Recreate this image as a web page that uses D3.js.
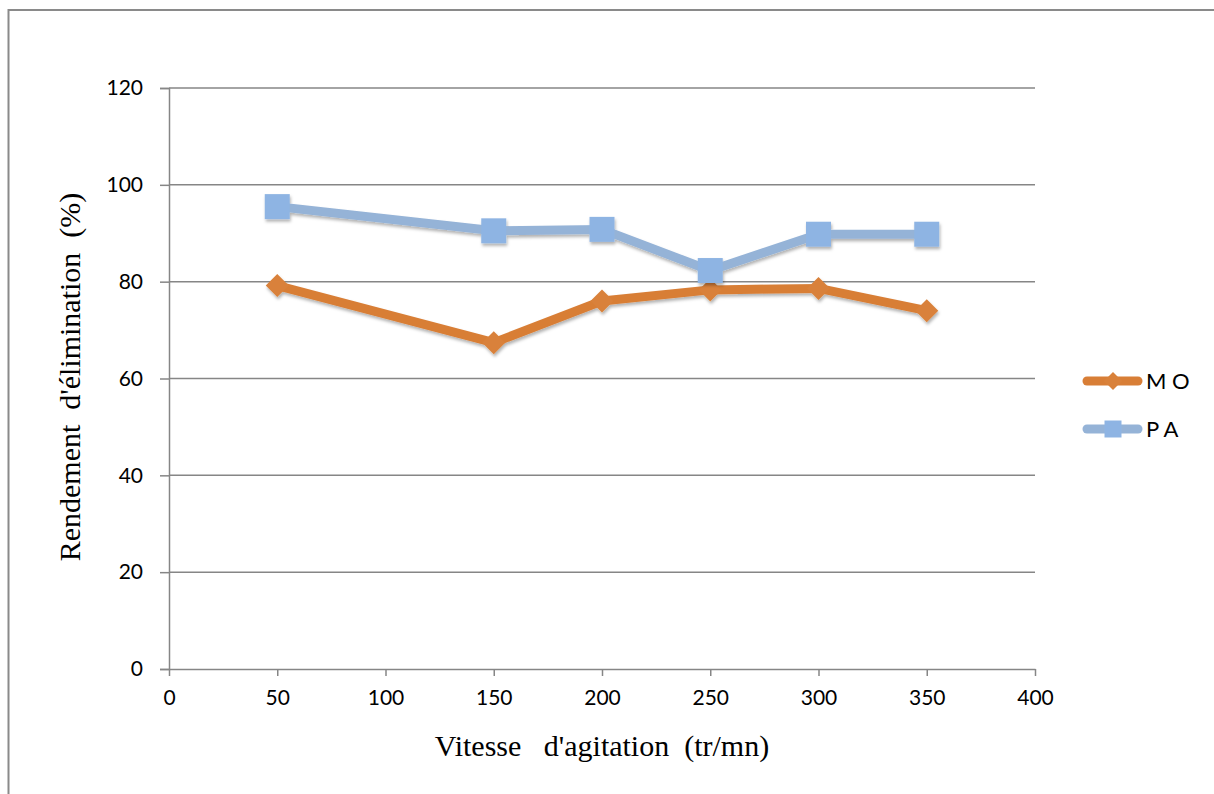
<!DOCTYPE html>
<html>
<head>
<meta charset="utf-8">
<script src="https://cdn.jsdelivr.net/npm/d3@7"></script>
<style>
  html, body { margin: 0; padding: 0; background: #fff; }
  svg { display: block; }
</style>
</head>
<body>
<svg id="chart" width="1214" height="794"></svg>
<script>
// Stirring speed (tr/mn) and removal yield (%) for each series
const speeds = [50, 150, 200, 250, 300, 350];
const moValues = [79.2, 67.4, 76.0, 78.3, 78.6, 74.0];
const paValues = [95.5, 90.5, 90.8, 82.3, 89.8, 89.8];
const seriesNames = ["M O", "P A"];
const xTicks = [0, 50, 100, 150, 200, 250, 300, 350, 400];
const yTicks = [0, 20, 40, 60, 80, 100, 120];

const svg = d3.select("#chart");
const W = 1214, H = 794;

const plot = { left: 169, right: 1035, top: 88, bottom: 669 };
const x = d3.scaleLinear().domain([0, 400]).range([plot.left, plot.right]);
const y = d3.scaleLinear().domain([0, 120]).range([plot.bottom, plot.top]);

const gridColor = "#868686";
const tickFont = "Lato, 'Open Sans', sans-serif";
const titleFont = "'Liberation Serif', 'Times New Roman', serif";

// soft shadow under lines and markers
const defs = svg.append("defs");
const f = defs.append("filter").attr("id", "shadow")
  .attr("x", "-20%").attr("y", "-20%").attr("width", "140%").attr("height", "160%");
f.append("feDropShadow").attr("dx", 1).attr("dy", 2.5)
  .attr("stdDeviation", 1.6).attr("flood-color", "#000").attr("flood-opacity", 0.3);

// outer frame (top and left edges visible)
svg.append("path")
  .attr("d", `M8.5,${H} L8.5,10 L${W},10`)
  .attr("fill", "none").attr("stroke", "#8a8a8a").attr("stroke-width", 2);

// horizontal gridlines
svg.append("g").selectAll("line")
  .data(yTicks.filter(d => d > 0))
  .join("line")
  .attr("x1", plot.left).attr("x2", plot.right)
  .attr("y1", d => y(d)).attr("y2", d => y(d))
  .attr("stroke", gridColor).attr("stroke-width", 1.5);

// y axis
const yAxis = svg.append("g")
  .attr("transform", `translate(${plot.left},0)`)
  .call(d3.axisLeft(y).tickValues(yTicks).tickSize(9).tickPadding(17).tickFormat(d3.format("d")));
yAxis.select(".domain").attr("stroke", gridColor).attr("stroke-width", 1.5);
yAxis.selectAll(".tick line").attr("stroke", gridColor).attr("stroke-width", 1.5);
yAxis.selectAll(".tick text")
  .attr("font-family", tickFont).attr("font-size", 21).attr("fill", "#000");

// x axis
const xAxis = svg.append("g")
  .attr("transform", `translate(0,${plot.bottom})`)
  .call(d3.axisBottom(x).tickValues(xTicks).tickSize(7).tickSizeOuter(0).tickPadding(14).tickFormat(d3.format("d")));
xAxis.select(".domain").attr("stroke", gridColor).attr("stroke-width", 1.5);
xAxis.selectAll(".tick line").attr("stroke", gridColor).attr("stroke-width", 1.5);
xAxis.selectAll(".tick text")
  .attr("font-family", tickFont).attr("font-size", 21).attr("fill", "#000");

// axis titles
svg.append("text")
  .attr("x", (plot.left + plot.right) / 2).attr("y", 756)
  .attr("text-anchor", "middle")
  .attr("font-family", titleFont).attr("font-size", 30).attr("fill", "#000")
  .attr("xml:space", "preserve")
  .text("Vitesse   d'agitation  (tr/mn)");

svg.append("text")
  .attr("transform", `translate(80,377) rotate(-90)`)
  .attr("text-anchor", "middle")
  .attr("font-family", titleFont).attr("font-size", 30).attr("fill", "#000")
  .attr("xml:space", "preserve")
  .text("Rendement  d'élimination  (%)");

const series = [
  { name: seriesNames[0], values: moValues, line: "#D87E36", fill: "#D9813A", shape: "diamond" },
  { name: seriesNames[1], values: paValues, line: "#95B3D7", fill: "#8EB4E3", shape: "square" }
];

const lineGen = d3.line().x(d => x(d[0])).y(d => y(d[1]));

function markerPath(shape, s) {
  if (shape === "diamond") return `M0,${-s} L${s},0 L0,${s} L${-s},0 Z`;
  return `M${-s},${-s} H${s} V${s} H${-s} Z`;
}

series.forEach(sr => {
  const pts = speeds.map((v, i) => [v, sr.values[i]]);
  const g = svg.append("g").attr("filter", "url(#shadow)");
  g.append("path")
    .attr("d", lineGen(pts))
    .attr("fill", "none").attr("stroke", sr.line)
    .attr("stroke-width", 9).attr("stroke-linejoin", "round").attr("stroke-linecap", "round");
  g.selectAll("path.m").data(pts).join("path").attr("class", "m")
    .attr("transform", d => `translate(${x(d[0])},${y(d[1])})`)
    .attr("d", markerPath(sr.shape, sr.shape === "diamond" ? 11.5 : 12.5))
    .attr("fill", sr.fill);
});

// legend
const legend = svg.append("g");
series.forEach((sr, i) => {
  const ly = 381 + i * 48;
  const lg = legend.append("g");
  lg.append("line")
    .attr("x1", 1087).attr("x2", 1138).attr("y1", ly).attr("y2", ly)
    .attr("stroke", sr.line).attr("stroke-width", 9).attr("stroke-linecap", "round");
  lg.append("path")
    .attr("transform", `translate(1113,${ly})`)
    .attr("d", markerPath(sr.shape, sr.shape === "diamond" ? 9 : 8.5))
    .attr("fill", sr.fill);
  lg.append("text")
    .attr("x", 1146).attr("y", ly + 8)
    .attr("font-family", tickFont).attr("font-size", 22).attr("fill", "#000")
    .attr("xml:space", "preserve")
    .text(sr.name);
});
</script>
</body>
</html>
